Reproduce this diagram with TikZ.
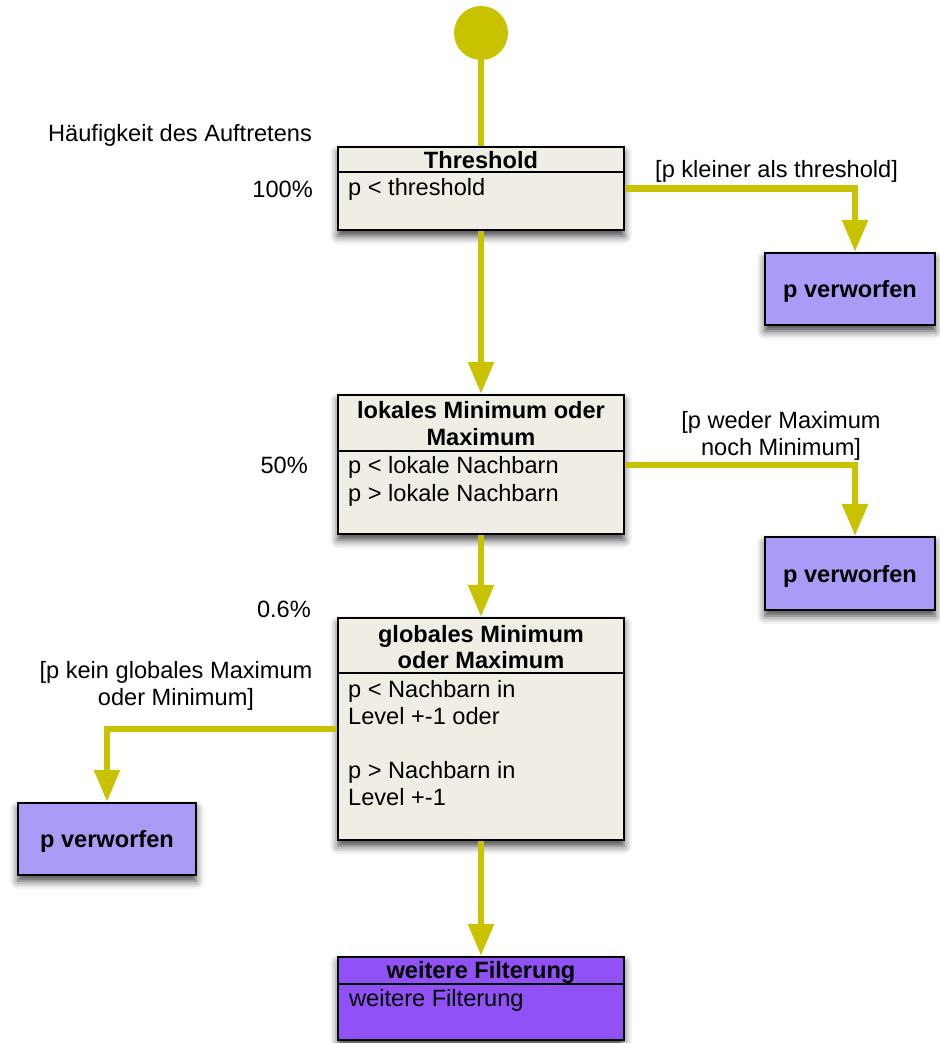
\documentclass[tikz,border=0pt]{standalone}
\usepackage{fontspec}
\setmainfont{Liberation Sans}
\usetikzlibrary{arrows.meta,shadows.blur}
\definecolor{flow}{RGB}{200,194,0}
\definecolor{paper}{RGB}{240,238,228}
\definecolor{reject}{RGB}{170,156,246}
\definecolor{further}{RGB}{145,82,245}

\begin{document}
\begin{tikzpicture}[x=1pt,y=-1pt,
  lbl/.style={font=\fontsize{23.6}{27}\selectfont, inner sep=0pt},
  hdr/.style={font=\fontsize{23.6}{27}\selectfont\bfseries, inner sep=0pt, align=center, anchor=north},
  bodytxt/.style={font=\fontsize{23.6}{27}\selectfont, inner sep=0pt, align=left, anchor=north west},
  box/.style={draw=black, line width=2.4pt, rectangle, inner sep=0pt,
    blur shadow={shadow xshift=0pt, shadow yshift=-6pt, shadow blur radius=8pt, shadow opacity=75}},
  statebox/.style={box, fill=paper, minimum width=286pt},
  rejbox/.style={box, fill=reject, font=\fontsize{23.6}{27}\selectfont\bfseries,
    text height=17pt, text depth=0pt},
  divider/.style={draw=black, line width=2pt},
  flowline/.style={draw=flow, line width=6pt},
  arr/.style={flowline, -{Triangle[width=25pt,length=32pt]}},
]
\useasboundingbox (0,0) rectangle (939,1043);

% start point
\node[circle, fill=flow, minimum size=54pt, inner sep=0pt] (start) at (481,33) {};

% state boxes
\node[statebox, minimum height=83pt]  (thr)  at (481,188.5) {};
\node[statebox, minimum height=139pt] (lok)  at (481,464.5) {};
\node[statebox, minimum height=222pt] (glob) at (481,729) {};
\node[statebox, fill=further, minimum height=83pt] (weit) at (481,998.5) {};

% rejection boxes
\node[rejbox, minimum width=170pt, minimum height=72pt] (rej1) at (850,289) {p verworfen};
\node[rejbox, minimum width=170pt, minimum height=73pt] (rej2) at (850,573.5) {p verworfen};
\node[rejbox, minimum width=178pt, minimum height=72pt] (rej3) at (107,839) {p verworfen};

% compartment dividers
\draw[divider] ([yshift=-26pt]thr.north west) -- ([yshift=-26pt]thr.north east);
\draw[divider] ([yshift=-57pt]lok.north west) -- ([yshift=-57pt]lok.north east);
\draw[divider] ([yshift=-56pt]glob.north west) -- ([yshift=-56pt]glob.north east);
\draw[divider] ([yshift=-28pt]weit.north west) -- ([yshift=-28pt]weit.north east);

% compartment texts
\node[hdr] (thrh) at (481,151) {Threshold};
\node[bodytxt] (thrb) at (348,178) {p < threshold};
\node[hdr] (lokh) at (481,401) {lokales Minimum oder\\Maximum};
\node[bodytxt, font=\fontsize{23.6}{28}\selectfont] (lokb) at (348,456) {p < lokale Nachbarn\\p > lokale Nachbarn};
\node[hdr, font=\fontsize{23.6}{26}\selectfont\bfseries] (globh) at (481,625) {globales Minimum\\oder Maximum};
\node[bodytxt] (globb) at (348,680) {p < Nachbarn in\\Level +-1 oder\\[27pt]p > Nachbarn in\\Level +-1};
\node[hdr] (weith) at (481,961) {weitere Filterung};
\node[bodytxt] (weitb) at (349,989) {weitere Filterung};

% side labels
\node[lbl, anchor=base west] (freq) at (48,142) {Häufigkeit des Auftretens};
\node[lbl, anchor=base east] (p100) at (313,197) {100\%};
\node[lbl, anchor=base east] (p50) at (308,473) {50\%};
\node[lbl, anchor=base east] (p06) at (311,617) {0.6\%};

% guard labels
\node[lbl, anchor=base west] (g1) at (655,178) {[p kleiner als threshold]};
\node[lbl, align=center, anchor=north] (g2) at (781,411) {[p weder Maximum\\noch Minimum]};
\node[lbl, align=center, anchor=north] (g3) at (176,661) {[p kein globales Maximum\\oder Minimum]};

% transitions
\draw[flowline] (start) -- (thr);
\draw[arr] (thr) -- (lok);
\draw[arr] (lok) -- (glob);
\draw[arr] (glob) -- (weit);
\draw[arr] (thr.east) -| ([xshift=5pt]rej1.north);
\draw[arr] (lok.east) -| ([xshift=5pt]rej2.north);
\draw[arr] (glob.west) -| (rej3.north);
\end{tikzpicture}
\end{document}
